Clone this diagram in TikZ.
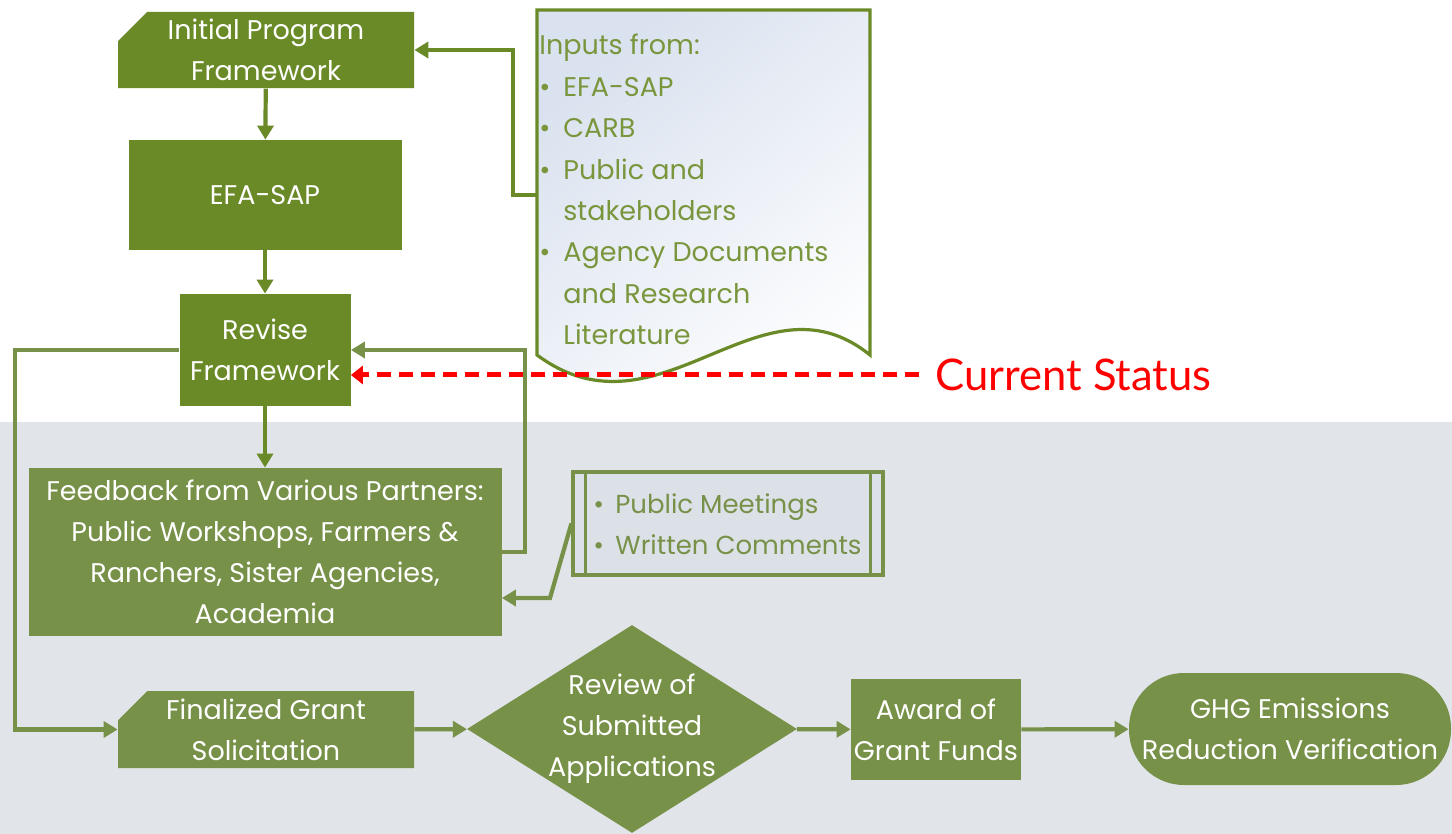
\documentclass[tikz,border=0pt]{standalone}
\usepackage{fontspec}
\setmainfont{Poppins}
\newfontfamily\statusfont{Lato}
\usetikzlibrary{arrows.meta,shapes.geometric,shapes.misc}

\definecolor{topgreen}{RGB}{106,138,40}
\definecolor{lowgreen}{RGB}{119,145,72}
\definecolor{paneGray}{RGB}{225,228,232}
\definecolor{docBlue}{RGB}{218,226,239}
\definecolor{meetGray}{RGB}{220,224,231}

\tikzset{
    box/.style={fill=topgreen, text=white, align=center, inner sep=0pt,
        font=\fontsize{13.5}{20.5}\selectfont},
    lowbox/.style={box, fill=lowgreen},
    cutbox/.style={chamfered rectangle, chamfered rectangle corners=north west,
        chamfered rectangle xsep=11pt},
    flow/.style={draw=topgreen, line width=2.1pt, -{Triangle[length=7pt,width=8pt]}},
    lowflow/.style={flow, draw=lowgreen},
    docline/.style={draw=topgreen, line width=1.6pt},
    listtext/.style={inner sep=0pt, align=left, font=\fontsize{13.5}{20.7}\selectfont},
    statusline/.style={draw=red, line width=2.5pt, dash pattern=on 7pt off 4pt,
        -{Triangle[length=6pt,width=9pt]}}
}

\begin{document}
\begin{tikzpicture}[x=0.5pt, y=-0.5pt]
    \useasboundingbox (0,0) rectangle (1452,834);

    % Background: white top, grey band below
    \fill[white] (0,0) rectangle (1452,422);
    \fill[paneGray] (0,422) rectangle (1452,834);

    % Inputs document (wavy bottom)
    \draw[docline, top color=docBlue, bottom color=white, shading angle=40]
        (537,10) -- (870,10) -- (870,355)
        .. controls (760,266) and (660,446) .. (537,355) -- cycle;
    \node (inputs) [listtext, text=topgreen!90!white, anchor=base west] at (539,55) {%
        \begin{tabular}[t]{@{}p{12pt}@{}l@{}}
        \multicolumn{2}{@{}l@{}}{Inputs from:}\\
        \textbullet & EFA-SAP\\
        \textbullet & CARB\\
        \textbullet & Public and\\
                    & stakeholders\\
        \textbullet & Agency Documents\\
                    & and Research\\
                    & Literature
        \end{tabular}};
    \coordinate (docin) at (537,195);

    % Upper chain
    \node (init) [box, cutbox, minimum width=148pt, minimum height=38pt] at (266,50)
        {Initial Program\\Framework};
    \node (efa) [box, minimum width=136.5pt, minimum height=55pt] at (265,195) {EFA-SAP};
    \node (revise) [box, minimum width=85.5pt, minimum height=56pt] at (265,350)
        {Revise\\Framework};

    % Feedback and meetings
    \node (feedback) [lowbox, minimum width=236.5pt, minimum height=84pt] at (265,552)
        {Feedback from Various Partners:\\Public Workshops, Farmers \&\\Ranchers, Sister Agencies,\\Academia};
    \node (meet) [fill=meetGray, draw=lowgreen, line width=1.6pt, inner sep=0pt,
        minimum width=155pt, minimum height=51.5pt] at (728,523.5) {};
    \draw[draw=lowgreen, line width=1.6pt]
        ([xshift=7pt]meet.north west) -- ([xshift=7pt]meet.south west)
        ([xshift=-7pt]meet.north east) -- ([xshift=-7pt]meet.south east);
    \node (meettext) [listtext, text=lowgreen, anchor=base west,
        font=\fontsize{13}{20.7}\selectfont] at (593,513) {%
        \begin{tabular}[t]{@{}p{11pt}@{}l@{}}
        \textbullet & Public Meetings\\
        \textbullet & Written Comments
        \end{tabular}};
    \coordinate (bend) at (550,598);

    % Lower chain
    \node (final) [lowbox, cutbox, minimum width=148pt, minimum height=38.5pt] at (266,729.5)
        {Finalized Grant\\Solicitation};
    \node (review) [lowbox, diamond, inner sep=-15pt, minimum width=165pt, minimum height=104pt]
        at (632,729) {Review of\\Submitted\\Applications};
    \node (award) [lowbox, minimum width=85pt, minimum height=50.5pt] at (936,729.5)
        {Award of\\Grant Funds};
    \node (ghg) [lowbox, rounded corners=27.5pt, minimum width=161pt, minimum height=56pt]
        at (1290,729) {GHG Emissions\\Reduction Verification};

    % Current status marker
    \node (status) [anchor=west, inner sep=0pt, text=red,
        font=\statusfont\fontsize{21.8}{24}\selectfont] at (935,375) {Current Status};

    % Connectors
    \draw[flow] (init) -- (efa);
    \draw[flow] (efa) -- (revise);
    \draw[flow] (revise) -- (feedback);
    \draw[flow] (docin) -- (513,195) |- (init.east);
    \draw[lowflow] (feedback.east) -- ++(11.5pt,0) |- (revise.east);
    \draw[lowflow] (revise.west) -- (15,350) |- (final.west);
    \draw[lowflow] (meet.west) -- (bend) -- (feedback.east |- bend);
    \draw[lowflow] (final) -- (review);
    \draw[lowflow] (review) -- (award);
    \draw[lowflow] (award) -- (ghg);
    \draw[statusline] ([xshift=-8pt]status.west) -- (revise.east |- status.west);
\end{tikzpicture}
\end{document}
